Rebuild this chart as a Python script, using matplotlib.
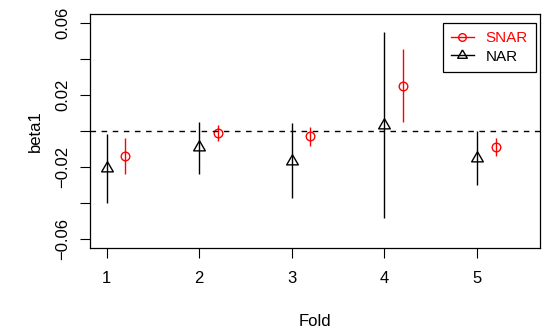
import matplotlib
matplotlib.use("Agg")
import matplotlib.pyplot as plt
import numpy as np

plt.rcParams['font.family'] = ['Liberation Sans', 'DejaVu Sans']

folds = [1, 2, 3, 4, 5]
nar_est = [-0.0208, -0.0088, -0.0168, 0.0034, -0.0149]
nar_lo = [-0.0402, -0.0241, -0.0375, -0.0482, -0.0302]
nar_hi = [-0.0018, 0.0051, 0.0042, 0.0550, 0.0000]
snar_est = [-0.0140, -0.0010, -0.0029, 0.0249, -0.0090]
snar_lo = [-0.0241, -0.0055, -0.0083, 0.0047, -0.0141]
snar_hi = [-0.0038, 0.0030, 0.0019, 0.0452, -0.0040]
offset = 0.2
yticks = [-0.06, -0.04, -0.02, 0.0, 0.02, 0.04, 0.06]
ytick_labels = ["\u22120.06", "", "\u22120.02", "", "0.02", "", "0.06"]

fig = plt.figure(figsize=(5.5, 3.35), dpi=100)
ax = fig.add_axes([90/550, 1-247.7/335, 450/550, 233.7/335])

tri = [(0, 1), (-0.866, -0.5), (0.866, -0.5), (0, 1)]
x_nar = np.array(folds, dtype=float)
x_snar = x_nar + offset

ax.vlines(x_nar, nar_lo, nar_hi, color='black', lw=1.0)
ax.vlines(x_snar, snar_lo, snar_hi, color='red', lw=1.0)
ax.plot(x_nar, nar_est, ls='none', marker=tri, ms=9.7, mfc='none', mec='black', mew=1.0)
ax.plot(x_snar, snar_est, ls='none', marker='o', ms=6.2, mfc='none', mec='red', mew=1.0)
ax.axhline(0, color='black', lw=1.0, ls=(0, (4, 4)))

ax.set_xlim(0.82, 5.68)
ax.set_ylim(-0.0648, 0.0648)
ax.set_xticks(folds)
ax.set_xticklabels([str(f) for f in folds])
ax.set_yticks(yticks)
ax.set_yticklabels(ytick_labels)
for lab in ax.get_yticklabels():
    lab.set_rotation(90)
    lab.set_va('center')
    lab.set_ha('right')

ax.tick_params(axis='both', length=7.2, width=0.8, labelsize=12, direction='out')
ax.tick_params(axis='x', pad=9.5)
ax.tick_params(axis='y', pad=7.0)
for s in ax.spines.values():
    s.set_linewidth(0.9)

ax.set_xlabel("Fold", fontsize=12)
ax.xaxis.set_label_coords(0.5, -(322 - 247.7) / 233.7, transform=ax.transAxes)
ax.xaxis.label.set_va('center')
ax.set_ylabel("beta1", fontsize=12)
ax.yaxis.set_label_coords(-(90 - 35) / 450, 0.5, transform=ax.transAxes)
ax.yaxis.label.set_va('center')

h1, = ax.plot([], [], color='red', lw=1.0, marker='o', ms=5.5, mfc='none', mew=1.0)
h2, = ax.plot([], [], color='black', lw=1.0, marker=tri, ms=8, mfc='none', mew=1.0)
leg = ax.legend([h1, h2], ["SNAR", "NAR"], loc='upper right',
                bbox_to_anchor=((536 - 90) / 450, (247.7 - 22.7) / 233.7),
                borderaxespad=0, fontsize=11, fancybox=False, framealpha=1,
                edgecolor='black', handlelength=1.5, handletextpad=0.75,
                borderpad=0.55, labelspacing=0.3)
leg.get_frame().set_linewidth(0.9)
for t, c in zip(leg.get_texts(), ['red', 'black']):
    t.set_color(c)

fig.savefig("out.png", dpi=100)
